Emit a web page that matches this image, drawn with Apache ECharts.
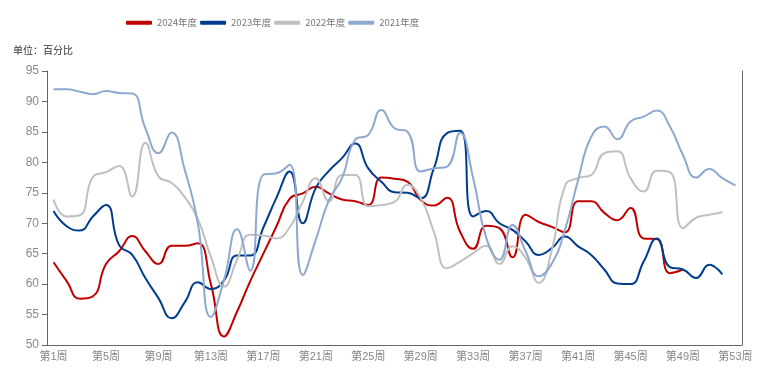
<!DOCTYPE html>
<html>
<head>
<meta charset="utf-8">
<script src="https://cdn.jsdelivr.net/npm/echarts@6/dist/echarts.min.js"></script>
<style>
html,body{margin:0;padding:0;background:#fff;}
#c{width:762px;height:371px;}
</style>
</head>
<body>
<div id="c"></div>
<script>
const weeks = [];
for (let i = 1; i <= 53; i++) weeks.push('第' + i + '周');

const seriesNames = ['2024年度', '2023年度', '2022年度', '2021年度'];

const data2024 = [63.6, 60.5, 57.6, 58.0, 63.3, 65.4, 67.9, 65.4, 63.3, 66.3, 66.3, 66.7, 60.0, 51.4, 55.5, 60.5, 65.0, 69.5, 74.0, 74.9, 76.0, 74.9, 73.9, 73.6, 73.0, 77.5, 77.3, 76.8, 73.8, 72.9, 74.2, 68.6, 65.8, 69.6, 69.2, 64.4, 71.4, 70.2, 69.4, 68.5, 73.6, 73.6, 71.7, 70.5, 72.5, 67.5, 67.4, 61.8, 62.4];

const data2023 = [72.0, 69.5, 68.8, 71.1, 73.0, 66.4, 64.8, 61.0, 57.7, 54.4, 57.0, 60.3, 59.2, 60.6, 64.7, 64.7, 69.3, 74.2, 78.5, 70.0, 75.8, 78.6, 80.7, 83.1, 79.0, 76.8, 75.1, 75.0, 74.1, 79.0, 84.8, 85.2, 71.1, 72.0, 70.0, 68.9, 67.0, 64.8, 65.9, 67.8, 66.2, 64.8, 62.4, 60.1, 60.0, 63.7, 67.5, 62.8, 62.4, 61.0, 63.2, 61.6];

const data2022 = [73.9, 71.1, 71.3, 77.6, 78.4, 79.4, 74.4, 83.2, 77.7, 76.6, 74.3, 70.7, 64.5, 59.6, 64.0, 68.1, 68.0, 67.5, 69.3, 73.5, 77.4, 73.6, 77.9, 77.9, 72.8, 73.0, 73.5, 76.3, 74.1, 68.6, 62.6, 63.7, 65.1, 66.3, 63.3, 66.2, 64.3, 60.2, 65.6, 76.1, 77.4, 77.9, 81.5, 81.8, 77.4, 75.2, 78.6, 78.4, 69.2, 70.9, 71.4, 71.8];

const data2021 = [92.0, 92.0, 91.6, 91.2, 91.7, 91.4, 91.3, 85.6, 81.5, 84.9, 78.8, 70.0, 54.6, 60.7, 69.0, 62.2, 78.0, 78.2, 79.6, 61.5, 67.3, 73.8, 77.4, 83.7, 84.5, 88.6, 85.6, 85.0, 78.5, 79.0, 79.3, 84.8, 77.4, 67.6, 64.0, 69.7, 65.4, 61.3, 63.4, 68.9, 77.1, 84.2, 85.9, 83.8, 86.7, 87.5, 88.5, 85.9, 81.2, 77.5, 78.9, 77.4, 76.2];

const colors = ['#C00000', '#003C8C', '#C0C0C0', '#8EA8D0'];
const allData = [data2024, data2023, data2022, data2021];

const chart = echarts.init(document.getElementById('c'), null, {renderer: 'canvas'});
chart.setOption({
  animation: false,
  backgroundColor: '#fff',
  color: colors,
  textStyle: {fontFamily: '"Liberation Sans Narrow", "Liberation Sans", "Noto Sans CJK SC", sans-serif'},
  legend: {
    top: 13,
    left: 121,
    icon: 'roundRect',
    itemWidth: 26,
    itemHeight: 4,
    itemGap: 3,
    textStyle: {color: '#777', fontSize: 9.5, fontFamily: '"Liberation Sans Narrow", "Noto Sans CJK SC", sans-serif'},
    data: seriesNames
  },
  title: {
    text: '单位：百分比',
    left: 8,
    top: 40,
    textStyle: {fontSize: 10, fontWeight: 'normal', color: '#333', fontFamily: '"Noto Sans CJK SC", sans-serif'}
  },
  grid: {left: 47, right: 20, top: 71, bottom: 26, containLabel: false},
  xAxis: {
    type: 'category',
    boundaryGap: true,
    data: weeks,
    axisLine: {lineStyle: {color: '#666'}},
    axisTick: {interval: 3, lineStyle: {color: '#666'}},
    axisLabel: {interval: 3, color: '#888', fontSize: 11, margin: 6}
  },
  yAxis: [{
    type: 'value',
    min: 50, max: 95, interval: 5,
    splitLine: {show: false},
    axisLine: {show: true, lineStyle: {color: '#666'}},
    axisTick: {show: true, lineStyle: {color: '#666'}},
    axisLabel: {color: '#888', fontSize: 12, margin: 8}
  }, {
    type: 'value',
    position: 'right',
    min: 50, max: 95, interval: 5,
    splitLine: {show: false},
    axisLine: {show: true, lineStyle: {color: '#666'}},
    axisTick: {show: false},
    axisLabel: {show: false}
  }],
  series: seriesNames.map((n, i) => ({
    name: n,
    type: 'line',
    data: allData[i],
    smooth: true,
    showSymbol: false,
    symbol: 'none',
    lineStyle: {width: 2, color: colors[i]},
    itemStyle: {color: colors[i]}
  }))
});
</script>
</body>
</html>
